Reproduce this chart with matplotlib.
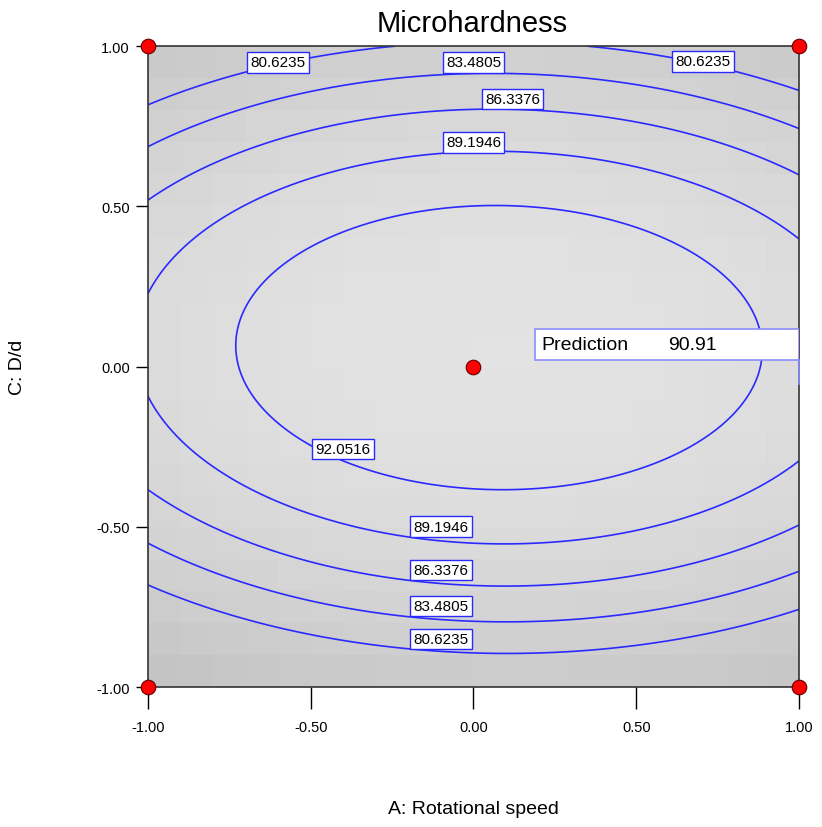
import matplotlib

matplotlib.use("Agg")
import matplotlib.pyplot as plt
import numpy as np
from matplotlib.colors import LinearSegmentedColormap
from matplotlib.patches import Rectangle

# coded quadratic model (A: rotational speed, C: D/d), estimated from contour spacing
b0, bA, bC, bAC, bAA, bCC = 95.11, 0.77, 1.92, -0.25, -4.81, -16.0

levels = [80.6235, 83.4805, 86.3376, 89.1946, 92.0516]
design_a = [-1, 1, -1, 1, 0]
design_c = [1, 1, -1, -1, 0]
ticks = [-1.0, -0.5, 0.0, 0.5, 1.0]
tick_labels = ["-1.00", "-0.50", "0.00", "0.50", "1.00"]
pred_label = "Prediction"
pred_value = 90.91

# (level index, A, C) where each contour label sits
label_spots = [
    (0, -0.60, 0.95), (1, 0.0, 0.95), (0, 0.705, 0.953),
    (2, 0.12, 0.835), (3, 0.0, 0.70), (4, -0.40, -0.257),
    (3, -0.10, -0.50), (2, -0.10, -0.635), (1, -0.10, -0.747), (0, -0.10, -0.85),
]

plt.rcParams["font.family"] = ["Liberation Sans", "DejaVu Sans"]


def response(a, c):
    return b0 + bA * a + bC * c + bAC * a * c + bAA * a ** 2 + bCC * c ** 2


fig = plt.figure(figsize=(8.22, 8.28), dpi=100)
ax = fig.add_axes([0.180, 0.169, 0.792, 0.774])

# blocky grey shading like Design-Expert
edges = np.linspace(-1, 1, 21)
mid = (edges[:-1] + edges[1:]) / 2
MA, MC = np.meshgrid(mid, mid)
greys = LinearSegmentedColormap.from_list("dx", ["#c2c2c2", "#e3e3e3"])
ax.pcolormesh(edges, edges, response(MA, MC), cmap=greys, vmin=72, vmax=95.5, shading="flat", zorder=0)

g = np.linspace(-1, 1, 301)
GA, GC = np.meshgrid(g, g)
ax.contour(GA, GC, response(GA, GC), levels=levels, colors="#2a2aff", linewidths=1.2, zorder=2)

for i, a, c in label_spots:
    ax.text(a, c, f"{levels[i]:.4f}", ha="center", va="center", fontsize=11, zorder=4,
            bbox=dict(boxstyle="square,pad=0.22", fc="white", ec="#2a2aff", lw=1.0))

ax.scatter(design_a, design_c, s=110, c="#ff0000", edgecolors="#600000", linewidths=0.8,
           zorder=6, clip_on=False)

# prediction flag
ax.add_patch(Rectangle((0.189, 0.020), 0.811, 0.097, fc="white", ec="#8c8cff", lw=1.2, zorder=5))
ax.plot([1.0, 1.0], [0.020, -0.055], color="#8c8cff", lw=1.2, zorder=5, clip_on=False)
ax.text(0.21, 0.068, pred_label, fontsize=14, va="center", ha="left", zorder=6)
ax.text(0.597, 0.068, f"{pred_value:.2f}", fontsize=14, va="center", ha="left", zorder=6)

ax.set_xlim(-1, 1)
ax.set_ylim(-1, 1)
ax.set_xticks(ticks)
ax.set_xticklabels(tick_labels)
ax.set_yticks(ticks)
ax.set_yticklabels(tick_labels)
ax.tick_params(axis="x", length=16, width=1, pad=8, labelsize=10.5)
ax.tick_params(axis="y", length=9, width=1, pad=4, labelsize=10.5)
for s in ax.spines.values():
    s.set_color("#333333")
    s.set_linewidth(1.2)

fig.text(0.574, 1 - 24 / 828, "Microhardness", fontsize=21, ha="center", va="center")
ax.set_xlabel("A: Rotational speed", fontsize=14)
ax.set_ylabel("C: D/d", fontsize=14)
ax.xaxis.set_label_coords(0.5, -0.19)
ax.yaxis.set_label_coords(-0.20, 0.5)
ax.xaxis.label.set_va("center")
ax.yaxis.label.set_va("center")

fig.savefig("out.png", dpi=100)
